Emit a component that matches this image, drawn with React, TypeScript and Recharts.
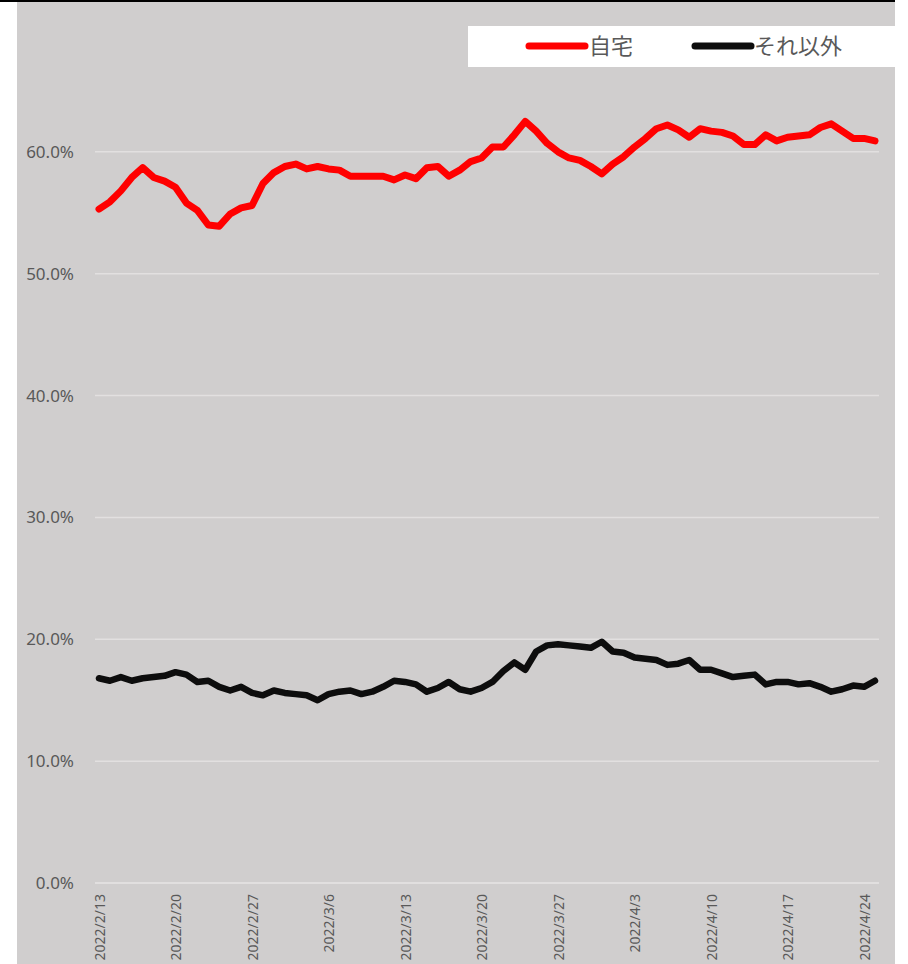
import React from "react";
import {
  LineChart,
  Line,
  XAxis,
  YAxis,
  ReferenceLine,
  Legend,
} from "recharts";

const DATES = [
  "2022/2/13", "2022/2/14", "2022/2/15", "2022/2/16", "2022/2/17", "2022/2/18", "2022/2/19",
  "2022/2/20", "2022/2/21", "2022/2/22", "2022/2/23", "2022/2/24", "2022/2/25", "2022/2/26",
  "2022/2/27", "2022/2/28", "2022/3/1", "2022/3/2", "2022/3/3", "2022/3/4", "2022/3/5",
  "2022/3/6", "2022/3/7", "2022/3/8", "2022/3/9", "2022/3/10", "2022/3/11", "2022/3/12",
  "2022/3/13", "2022/3/14", "2022/3/15", "2022/3/16", "2022/3/17", "2022/3/18", "2022/3/19",
  "2022/3/20", "2022/3/21", "2022/3/22", "2022/3/23", "2022/3/24", "2022/3/25", "2022/3/26",
  "2022/3/27", "2022/3/28", "2022/3/29", "2022/3/30", "2022/3/31", "2022/4/1", "2022/4/2",
  "2022/4/3", "2022/4/4", "2022/4/5", "2022/4/6", "2022/4/7", "2022/4/8", "2022/4/9",
  "2022/4/10", "2022/4/11", "2022/4/12", "2022/4/13", "2022/4/14", "2022/4/15", "2022/4/16",
  "2022/4/17", "2022/4/18", "2022/4/19", "2022/4/20", "2022/4/21", "2022/4/22", "2022/4/23",
  "2022/4/24", "2022/4/25",
];

// 自宅
const HOME = [
  0.553, 0.559, 0.568, 0.579, 0.587, 0.579, 0.576, 0.571, 0.558, 0.552,
  0.540, 0.539, 0.549, 0.554, 0.556, 0.574, 0.583, 0.588, 0.590, 0.586,
  0.588, 0.586, 0.585, 0.580, 0.580, 0.580, 0.580, 0.577, 0.581, 0.578,
  0.587, 0.588, 0.580, 0.585, 0.592, 0.595, 0.604, 0.604, 0.614, 0.625,
  0.617, 0.607, 0.600, 0.595, 0.593, 0.588, 0.582, 0.590, 0.596, 0.604,
  0.611, 0.619, 0.622, 0.618, 0.612, 0.619, 0.617, 0.616, 0.613, 0.606,
  0.606, 0.614, 0.609, 0.612, 0.613, 0.614, 0.620, 0.623, 0.617, 0.611,
  0.611, 0.609,
];

// それ以外
const OTHER = [
  0.168, 0.166, 0.169, 0.166, 0.168, 0.169, 0.170, 0.173, 0.171, 0.165,
  0.166, 0.161, 0.158, 0.161, 0.156, 0.154, 0.158, 0.156, 0.155, 0.154,
  0.150, 0.155, 0.157, 0.158, 0.155, 0.157, 0.161, 0.166, 0.165, 0.163,
  0.157, 0.160, 0.165, 0.159, 0.157, 0.160, 0.165, 0.174, 0.181, 0.175,
  0.190, 0.195, 0.196, 0.195, 0.194, 0.193, 0.198, 0.190, 0.189, 0.185,
  0.184, 0.183, 0.179, 0.180, 0.183, 0.175, 0.175, 0.172, 0.169, 0.170,
  0.171, 0.163, 0.165, 0.165, 0.163, 0.164, 0.161, 0.157, 0.159, 0.162,
  0.161, 0.166,
];

const Y_TICKS = [0, 0.1, 0.2, 0.3, 0.4, 0.5, 0.6];

const SERIES = [
  { key: "home", name: "自宅", color: "#ff0000", width: 7 },
  { key: "other", name: "それ以外", color: "#0d0d0d", width: 6.5 },
];

const data = DATES.map((date, i) => ({
  date,
  home: HOME[i],
  other: OTHER[i],
}));

const FONT = '"Noto Sans", "Noto Sans CJK JP", sans-serif';
const TEXT = "#595959";
const GRID = "#e2e0e0";

function DateTick({ x, y, payload }: any) {
  return (
    <g transform={`translate(${x + 1},${y + 3})`}>
      <text
        transform="rotate(-90)"
        textAnchor="end"
        dy="0.35em"
        fill={TEXT}
        fontSize={14}
        fontFamily={FONT}
      >
        {payload.value}
      </text>
    </g>
  );
}

function LegendBox() {
  const pos = [
    { line: 60, text: 121 },
    { line: 226, text: 286 },
  ];
  return (
    <div style={{ position: "relative", width: 427, height: 41, background: "#fff" }}>
      {SERIES.map((s, i) => (
        <React.Fragment key={s.key}>
          <svg
            width={64}
            height={12}
            style={{ position: "absolute", left: pos[i].line - 3, top: 14 }}
          >
            <line
              x1={4}
              y1={6}
              x2={60}
              y2={6}
              stroke={s.color}
              strokeWidth={7}
              strokeLinecap="round"
            />
          </svg>
          <span
            style={{
              position: "absolute",
              left: pos[i].text,
              top: 4,
              fontSize: 22,
              lineHeight: "30px",
              color: TEXT,
              fontFamily: FONT,
              whiteSpace: "nowrap",
            }}
          >
            {s.name}
          </span>
        </React.Fragment>
      ))}
    </div>
  );
}

export default function App() {
  return (
    <div
      style={{
        position: "absolute",
        left: 0,
        top: 0,
        width: 908,
        height: 964,
        background: "#fff",
        overflow: "hidden",
      }}
    >
      <div
        style={{
          position: "absolute",
          left: 17,
          top: 0,
          width: 878,
          height: 964,
          background: "#d0cece",
        }}
      >
        <LineChart
          width={878}
          height={964}
          data={data}
          margin={{ top: 30, right: 16, bottom: 0, left: 0 }}
        >
          {Y_TICKS.map((t) => (
            <ReferenceLine key={t} y={t} stroke={GRID} strokeWidth={1.5} />
          ))}
          <XAxis
            dataKey="date"
            interval={6}
            height={81}
            padding={{ left: 4, right: 4 }}
            axisLine={{ stroke: GRID, strokeWidth: 1.5 }}
            tickLine={false}
            tick={<DateTick />}
          />
          <YAxis
            width={78}
            domain={[0, 0.7]}
            ticks={Y_TICKS}
            axisLine={false}
            tickLine={false}
            tickSize={0}
            tickMargin={21}
            tickFormatter={(v: number) => `${(v * 100).toFixed(1)}%`}
            tick={{ fill: TEXT, fontSize: 17, fontFamily: FONT }}
          />
          <Legend
            layout="horizontal"
            verticalAlign="middle"
            align="center"
            wrapperStyle={{ position: "absolute", top: 26, left: 451, width: 427, height: 41 }}
            content={() => <LegendBox />}
          />
          {SERIES.map((s) => (
            <Line
              key={s.key}
              type="linear"
              dataKey={s.key}
              name={s.name}
              stroke={s.color}
              strokeWidth={s.width}
              strokeLinecap="round"
              strokeLinejoin="round"
              dot={false}
              activeDot={false}
              isAnimationActive={false}
            />
          ))}
        </LineChart>
      </div>
      <div
        style={{
          position: "absolute",
          left: 0,
          top: 0,
          width: 895,
          height: 2,
          background: "#000",
        }}
      />
    </div>
  );
}
